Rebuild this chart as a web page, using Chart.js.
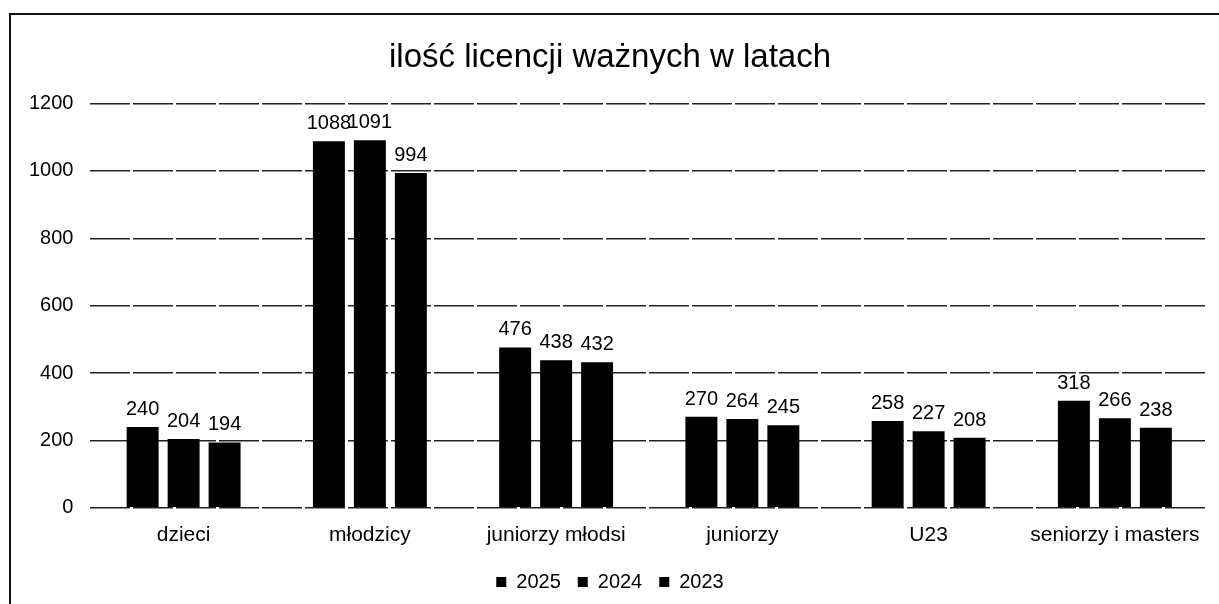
<!DOCTYPE html>
<html>
<head>
<meta charset="utf-8">
<script src="https://cdn.jsdelivr.net/npm/chart.js@4"></script>
<style>
    html, body { margin: 0; padding: 0; background: #fff; overflow: hidden; }
    #ramka {
        position: absolute; left: 9px; top: 13px; width: 1230px; height: 620px;
        border-top: 2px solid #111; border-left: 2px solid #111;
    }
    #wykres { position: absolute; left: 0; top: 0; }
</style>
</head>
<body>
<div id="ramka"></div>
<canvas id="wykres" width="1219" height="604"></canvas>
<script>
// kategorie i wartości
const kategorie = ['dzieci', 'młodzicy', 'juniorzy młodsi', 'juniorzy', 'U23', 'seniorzy i masters'];
const lata = ['2025', '2024', '2023'];
const wartosci2025 = [240, 1088, 476, 270, 258, 318];
const wartosci2024 = [204, 1091, 438, 264, 227, 266];
const wartosci2023 = [194, 994, 432, 245, 208, 238];
const ticksY = [0, 200, 400, 600, 800, 1000, 1200];

const czcionka = '"Liberation Sans", Arial, sans-serif';

// Plugin para etykiet nad słupkami
const etykietyWartosci = {
    id: 'etykietyWartosci',
    afterDatasetsDraw: (chart) => {
        const ctx = chart.ctx;
        ctx.save();
        ctx.font = '20px ' + czcionka;
        ctx.fillStyle = '#000';
        ctx.textAlign = 'center';
        ctx.textBaseline = 'alphabetic';
        chart.data.datasets.forEach((ds, i) => {
            chart.getDatasetMeta(i).data.forEach((bar, j) => {
                ctx.fillText(ds.data[j], bar.x, bar.y - 12);
            });
        });
        ctx.restore();
    }
};

const serie = [wartosci2025, wartosci2024, wartosci2023];

new Chart(document.getElementById('wykres'), {
    type: 'bar',
    data: {
        labels: kategorie,
        datasets: lata.map((rok, i) => ({
            label: rok,
            data: serie[i],
            backgroundColor: '#000',
            borderWidth: 0,
            categoryPercentage: 0.66,
            barPercentage: 0.78
        }))
    },
    options: {
        responsive: false,
        animation: false,
        layout: { padding: { left: 12, right: 11, top: 0, bottom: 2 } },
        plugins: {
            title: {
                display: true,
                text: 'ilość licencji ważnych w latach',
                color: '#000',
                font: { family: czcionka, size: 33, weight: 'normal' },
                padding: { top: 38, bottom: 26 }
            },
            legend: {
                position: 'bottom',
                labels: {
                    color: '#000',
                    font: { family: czcionka, size: 20 },
                    boxWidth: 10,
                    boxHeight: 10,
                    padding: 17
                }
            },
            tooltip: { enabled: false }
        },
        scales: {
            x: {
                grid: { display: false },
                border: { display: false },
                ticks: { color: '#000', font: { family: czcionka, size: 21 }, padding: 7 }
            },
            y: {
                min: 0,
                max: 1200,
                afterBuildTicks: (axis) => { axis.ticks = ticksY.map(v => ({ value: v })); },
                grid: { color: '#222', lineWidth: 1.5, drawTicks: false },
                border: { display: false, dash: [40, 3] },
                ticks: {
                    color: '#000',
                    font: { family: czcionka, size: 20 },
                    padding: 17,
                    callback: (v) => String(v)
                }
            }
        }
    },
    plugins: [etykietyWartosci]
});
</script>
</body>
</html>
